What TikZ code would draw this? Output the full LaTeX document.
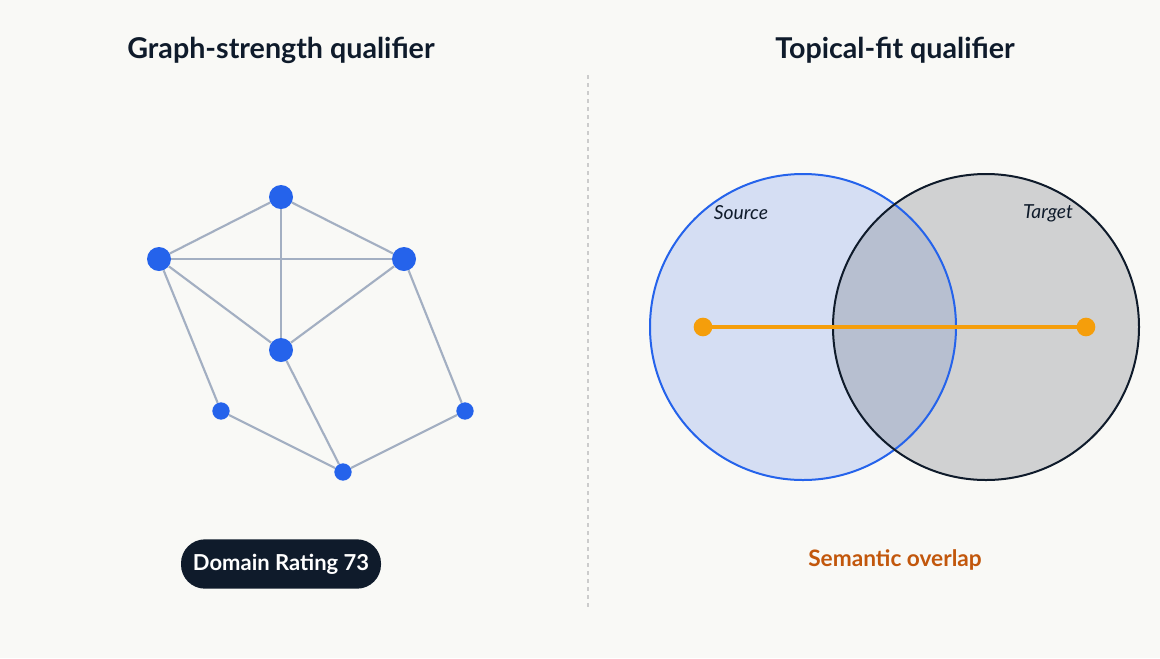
\documentclass[tikz,border=0pt]{standalone}
\usepackage{fontspec}
\setmainfont{Lato}
\definecolor{bgcol}{HTML}{F9F9F6}
\definecolor{navy}{HTML}{0F1B2B}
\definecolor{nodeblue}{HTML}{2563EB}
\definecolor{edgegray}{HTML}{A3AFC2}
\definecolor{srcfill}{HTML}{D5DEF3}
\definecolor{tgtfill}{HTML}{7A7E88}
\definecolor{lineorange}{HTML}{F59E0B}
\definecolor{txtorange}{HTML}{C2570C}
\tikzset{
  big/.style={circle,fill=nodeblue,inner sep=0pt,minimum size=18pt},
  small/.style={circle,fill=nodeblue,inner sep=0pt,minimum size=13pt},
  edge/.style={draw=edgegray,line width=1.6pt},
  title/.style={font=\bfseries\fontsize{21.5}{24}\selectfont,text=navy},
}
\begin{document}
\begin{tikzpicture}[x=0.75pt,y=-0.75pt]
  \fill[bgcol] (0,0) rectangle (1160,658);
  \useasboundingbox (0,0) rectangle (1160,658);
  \node[title] (tl) at (281,50) {Graph-strength qualifier};
  \node[title] (tr) at (895,50) {Topical-fit qualifier};
  \draw[gray!40,dashed,line width=0.8pt] (588,75) -- (588,607);
  % graph
  \node[big] (t) at (281,197) {};
  \node[big] (l) at (159,259) {};
  \node[big] (r) at (404,259) {};
  \node[big] (c) at (281,350) {};
  \node[small] (sl) at (221,411) {};
  \node[small] (sr) at (465,411) {};
  \node[small] (b) at (343,472) {};
  \foreach \u/\v in {t/l,t/r,l/r,t/c,l/c,r/c,l/sl,r/sr,c/b,sl/b,sr/b}
    \draw[edge] (\u) -- (\v);
  \node[fill=navy,text=white,rounded corners=18pt,minimum width=150pt,minimum height=37pt,
    font=\bfseries\fontsize{16.5}{19}\selectfont] (dr) at (281,564) {Domain Rating 73};
  % venn
  \fill[srcfill] (803,327) circle (153);
  \fill[tgtfill,opacity=0.32] (986,327) circle (153);
  \draw[nodeblue,line width=1.5pt] (803,327) circle (153);
  \draw[navy,line width=1.5pt] (986,327) circle (153);
  \node[font=\itshape\fontsize{14.5}{17}\selectfont,text=navy] (src) at (741,213) {Source};
  \node[font=\itshape\fontsize{14.5}{17}\selectfont,text=navy] (tgt) at (1048,213) {Target};
  \coordinate (p) at (703,327);
  \coordinate (q) at (1086,327);
  \draw[lineorange,line width=3pt] (p) -- (q);
  \fill[lineorange] (p) circle (7pt) (q) circle (7pt);
  \node[font=\bfseries\fontsize{17}{20}\selectfont,text=txtorange] (so) at (895,560) {Semantic overlap};
\end{tikzpicture}
\end{document}
